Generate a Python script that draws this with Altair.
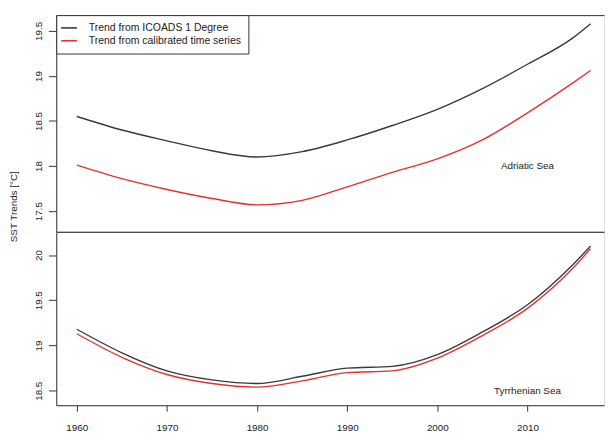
import altair as alt
import pandas as pd

years = [1960, 1965, 1970, 1975, 1980, 1985, 1990, 1995, 2000, 2005, 2010, 2015, 2017]
series_names = ["Trend from ICOADS 1 Degree", "Trend from calibrated time series"]

adriatic_icoads = [18.55, 18.40, 18.28, 18.17, 18.10, 18.16, 18.29, 18.45, 18.63, 18.86, 19.13, 19.42, 19.58]
adriatic_calib = [18.01, 17.86, 17.74, 17.64, 17.57, 17.62, 17.77, 17.93, 18.08, 18.29, 18.59, 18.92, 19.06]
tyrrhenian_icoads = [19.18, 18.92, 18.72, 18.62, 18.58, 18.66, 18.75, 18.77, 18.90, 19.15, 19.45, 19.89, 20.10]
tyrrhenian_calib = [19.13, 18.87, 18.68, 18.58, 18.54, 18.61, 18.70, 18.72, 18.86, 19.11, 19.41, 19.85, 20.07]

adriatic_ticks = [17.5, 18, 18.5, 19, 19.5]
tyrrhenian_ticks = [18.5, 19, 19.5, 20]
year_ticks = [1960, 1970, 1980, 1990, 2000, 2010]

labels_df_top = pd.DataFrame({"year": [2010], "value": [18.0], "label": ["Adriatic Sea"]})
labels_df_bot = pd.DataFrame({"year": [2010], "value": [18.5], "label": ["Tyrrhenian Sea"]})


def make_df(a, b):
    rows = []
    for y, v in zip(years, a):
        rows.append({"year": y, "value": v, "series": series_names[0]})
    for y, v in zip(years, b):
        rows.append({"year": y, "value": v, "series": series_names[1]})
    return pd.DataFrame(rows)


df_top = make_df(adriatic_icoads, adriatic_calib)
df_bot = make_df(tyrrhenian_icoads, tyrrhenian_calib)

FONT = "Liberation Sans"
FRAME = "#333333"
TXT = "#222222"
xdom = [1957.72, 2018.49]
color_scale = alt.Scale(domain=series_names, range=["#3a3a3a", "#e4312f"])
xscale = alt.Scale(domain=xdom, nice=False, zero=False)

W = 556


def frame_axis(orient):
    return alt.Axis(orient=orient, labels=False, ticks=False, domain=True,
                    domainColor=FRAME, grid=False, title=None, minExtent=0, offset=0)


# ---- top panel ----
top_lines = alt.Chart(df_top).mark_line(strokeWidth=1.4, interpolate="monotone").encode(
    x=alt.X("year:Q", scale=xscale, axis=frame_axis("top")),
    y=alt.Y("value:Q", scale=alt.Scale(domain=[17.27, 19.675], nice=False, zero=False),
            axis=alt.Axis(values=adriatic_ticks, format="~g", labelAngle=270,
                          labelAlign="center", labelBaseline="bottom", labelPadding=5,
                          tickSize=8, tickColor=FRAME, domainColor=FRAME, grid=False,
                          labelFontSize=10, labelColor=TXT, minExtent=0,
                          title="SST Trends [°C]", titleAngle=270, titleX=-38, titleY=194,
                          titleAlign="center", titleBaseline="bottom",
                          titleFontSize=10, titleFontWeight="normal", titleColor=TXT)),
    color=alt.Color("series:N", scale=color_scale, sort=series_names,
                    legend=alt.Legend(title=None, orient="top-left", offset=0,
                                      symbolType="M-1.6,0L1.6,0", symbolSize=100,
                                      symbolStrokeWidth=1.6, labelFontSize=10.6,
                                      labelColor=TXT, labelOffset=14,
                                      padding=7, rowPadding=1,
                                      strokeColor=FRAME, fillColor="white",
                                      labelLimit=400)),
)

top_text = alt.Chart(labels_df_top).mark_text(fontSize=10, color=TXT, font=FONT).encode(
    x=alt.X("year:Q", scale=xscale, axis=frame_axis("bottom")),
    y=alt.Y("value:Q"),
    text="label:N",
)

top = alt.layer(top_lines, top_text).resolve_axis(x="independent").properties(width=W, height=220)

# ---- bottom panel ----
bot_lines = alt.Chart(df_bot).mark_line(strokeWidth=1.4, interpolate="monotone").encode(
    x=alt.X("year:Q", scale=xscale,
            axis=alt.Axis(orient="bottom", values=year_ticks, format="d", tickSize=6,
                          tickColor=FRAME, domainColor=FRAME, grid=False, labelPadding=12,
                          labelFontSize=10, labelColor=TXT, title=None, minExtent=0, offset=0)),
    y=alt.Y("value:Q", scale=alt.Scale(domain=[18.34, 20.256], nice=False, zero=False),
            axis=alt.Axis(values=tyrrhenian_ticks, format="~g", labelAngle=270,
                          labelAlign="center", labelBaseline="bottom", labelPadding=5,
                          tickSize=8, tickColor=FRAME, domainColor=FRAME, grid=False,
                          labelFontSize=10, labelColor=TXT, title=None, minExtent=0)),
    color=alt.Color("series:N", scale=color_scale, sort=series_names, legend=None),
)

bot_text = alt.Chart(labels_df_bot).mark_text(fontSize=10, color=TXT, font=FONT).encode(
    x=alt.X("year:Q", scale=xscale, axis=frame_axis("top")),
    y=alt.Y("value:Q"),
    text="label:N",
)

bot = alt.layer(bot_lines, bot_text).resolve_axis(x="independent").properties(width=W, height=176)

chart = alt.vconcat(top, bot, spacing=0, bounds="flush").resolve_scale(color="independent").resolve_legend(
    color="independent"
).properties(
    padding={"top": 3, "left": 0, "right": 0, "bottom": 0}
).configure_view(stroke=None).configure(font=FONT, background="white")

chart.save("out.html", embed_options={"renderer": "svg", "actions": False})
